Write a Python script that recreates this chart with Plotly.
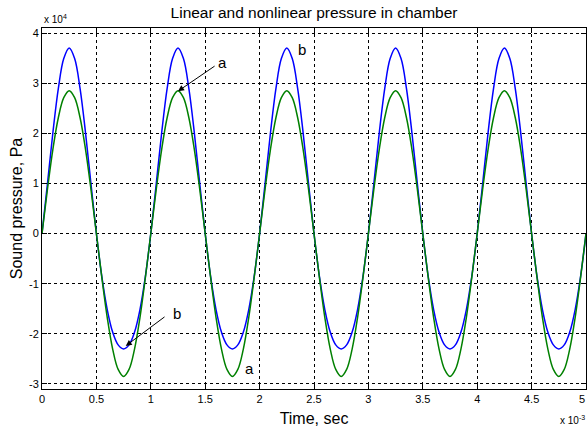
import plotly.graph_objects as go

# Time samples in milliseconds (axis shows seconds x 10^-3)
time_ms = [0.0, 0.05, 0.1, 0.15, 0.2, 0.25, 0.3, 0.35, 0.4, 0.45,
           0.5, 0.55, 0.6, 0.65, 0.7, 0.75, 0.8, 0.85, 0.9, 0.95,
           1.0, 1.05, 1.1, 1.15, 1.2, 1.25, 1.3, 1.35, 1.4, 1.45,
           1.5, 1.55, 1.6, 1.65, 1.7, 1.75, 1.8, 1.85, 1.9, 1.95,
           2.0, 2.05, 2.1, 2.15, 2.2, 2.25, 2.3, 2.35, 2.4, 2.45,
           2.5, 2.55, 2.6, 2.65, 2.7, 2.75, 2.8, 2.85, 2.9, 2.95,
           3.0, 3.05, 3.1, 3.15, 3.2, 3.25, 3.3, 3.35, 3.4, 3.45,
           3.5, 3.55, 3.6, 3.65, 3.7, 3.75, 3.8, 3.85, 3.9, 3.95,
           4.0, 4.05, 4.1, 4.15, 4.2, 4.25, 4.3, 4.35, 4.4, 4.45,
           4.5, 4.55, 4.6, 4.65, 4.7, 4.75, 4.8, 4.85, 4.9, 4.95,
           5.0]

# Nonlinear pressure (blue, "b"), Pa
pressure_b = [0, 9900, 20100, 28900, 34900, 37000, 34900, 28900, 20100, 9900,
              0, -8600, -15200, -19700, -22200, -23000, -22200, -19700, -15200, -8600,
              0, 9900, 20100, 28900, 34900, 37000, 34900, 28900, 20100, 9900,
              0, -8600, -15200, -19700, -22200, -23000, -22200, -19700, -15200, -8600,
              0, 9900, 20100, 28900, 34900, 37000, 34900, 28900, 20100, 9900,
              0, -8600, -15200, -19700, -22200, -23000, -22200, -19700, -15200, -8600,
              0, 9900, 20100, 28900, 34900, 37000, 34900, 28900, 20100, 9900,
              0, -8600, -15200, -19700, -22200, -23000, -22200, -19700, -15200, -8600,
              0, 9900, 20100, 28900, 34900, 37000, 34900, 28900, 20100, 9900,
              0, -8600, -15200, -19700, -22200, -23000, -22200, -19700, -15200, -8600,
              0]

# Linear pressure (green, "a"), Pa
pressure_a = [0, 8800, 16800, 23100, 27100, 28500, 27100, 23100, 16800, 8800,
              0, -8800, -16800, -23100, -27100, -28500, -27100, -23100, -16800, -8800,
              0, 8800, 16800, 23100, 27100, 28500, 27100, 23100, 16800, 8800,
              0, -8800, -16800, -23100, -27100, -28500, -27100, -23100, -16800, -8800,
              0, 8800, 16800, 23100, 27100, 28500, 27100, 23100, 16800, 8800,
              0, -8800, -16800, -23100, -27100, -28500, -27100, -23100, -16800, -8800,
              0, 8800, 16800, 23100, 27100, 28500, 27100, 23100, 16800, 8800,
              0, -8800, -16800, -23100, -27100, -28500, -27100, -23100, -16800, -8800,
              0, 8800, 16800, 23100, 27100, 28500, 27100, 23100, 16800, 8800,
              0, -8800, -16800, -23100, -27100, -28500, -27100, -23100, -16800, -8800,
              0]

x_tickvals_ms = [0, 0.5, 1, 1.5, 2, 2.5, 3, 3.5, 4, 4.5, 5]
x_ticktext = ["0", "0.5", "1", "1.5", "2", "2.5", "3", "3.5", "4", "4.5", "5"]
y_tickvals = [-30000, -20000, -10000, 0, 10000, 20000, 30000, 40000]
y_ticktext = ["-3", "-2", "-1", "0", "1", "2", "3", "4"]

time_s = [t * 1e-3 for t in time_ms]
x_tickvals = [t * 1e-3 for t in x_tickvals_ms]

FONT = "Liberation Sans, Arial, sans-serif"

fig = go.Figure()
fig.add_trace(go.Scatter(x=time_s, y=pressure_b, mode="lines",
                         line=dict(color="#0000ff", width=1.5, shape="spline"),
                         showlegend=False))
fig.add_trace(go.Scatter(x=time_s, y=pressure_a, mode="lines",
                         line=dict(color="#008000", width=1.5, shape="spline"),
                         showlegend=False))

axis_common = dict(
    showline=True, linecolor="black", linewidth=1, mirror="ticks",
    ticks="inside", ticklen=5, tickcolor="black",
    showgrid=True, gridcolor="black", gridwidth=1, griddash="3px,3px",
    zeroline=False,
    tickfont=dict(family=FONT, size=11, color="black"),
)

fig.update_xaxes(range=[0, 0.005], tickvals=x_tickvals, ticktext=x_ticktext,
                 title=dict(text="Time, sec", font=dict(family=FONT, size=16, color="black"),
                            standoff=8),
                 **axis_common)
fig.update_yaxes(range=[-31000, 41000], tickvals=y_tickvals, ticktext=y_ticktext,
                 title=dict(text="Sound pressure, Pa", font=dict(family=FONT, size=16, color="black"),
                            standoff=2),
                 **axis_common)

annotations = [
    dict(x=0.00125, y=28400, ax=0.0016, ay=33600, axref="x", ayref="y",
         xref="x", yref="y", text="", showarrow=True, arrowhead=2,
         arrowsize=1.2, arrowwidth=1, arrowcolor="black"),
    dict(x=0.00166, y=34200, xref="x", yref="y", text="a", showarrow=False,
         font=dict(family=FONT, size=15, color="black")),
    dict(x=0.00239, y=36800, xref="x", yref="y", text="b", showarrow=False,
         font=dict(family=FONT, size=15, color="black")),
    dict(x=0.00077, y=-22400, ax=0.00114, ay=-16400, axref="x", ayref="y",
         xref="x", yref="y", text="", showarrow=True, arrowhead=2,
         arrowsize=1.2, arrowwidth=1, arrowcolor="black"),
    dict(x=0.00124, y=-16000, xref="x", yref="y", text="b", showarrow=False,
         font=dict(family=FONT, size=15, color="black")),
    dict(x=0.00191, y=-27000, xref="x", yref="y", text="a", showarrow=False,
         font=dict(family=FONT, size=15, color="black")),
    dict(x=0, y=1, xref="paper", yref="paper", xanchor="left", yanchor="bottom",
         text="x 10<sup>4</sup>", showarrow=False, yshift=1,
         font=dict(family=FONT, size=10, color="black")),
    dict(x=0.949, y=-0.086, xref="paper", yref="paper", xanchor="left", yanchor="middle",
         text="x 10<sup>-3</sup>", showarrow=False,
         font=dict(family=FONT, size=10, color="black")),
    # last x tick label, which plotly would otherwise drop at the page edge
    dict(x=0.005, y=0, xref="x", yref="paper", xanchor="right", yanchor="top",
         text="5", showarrow=False, yshift=-2, xshift=1,
         font=dict(family=FONT, size=11, color="black")),
]

fig.update_layout(
    width=587, height=430,
    margin=dict(l=42, r=1, t=28, b=41, autoexpand=False),
    paper_bgcolor="white", plot_bgcolor="white",
    title=dict(text="Linear and nonlinear pressure in chamber",
               font=dict(family=FONT, size=15.5, color="black"),
               x=0.535, xanchor="center", y=0.97, yanchor="middle"),
    annotations=annotations,
)

fig.write_html("out.html")
